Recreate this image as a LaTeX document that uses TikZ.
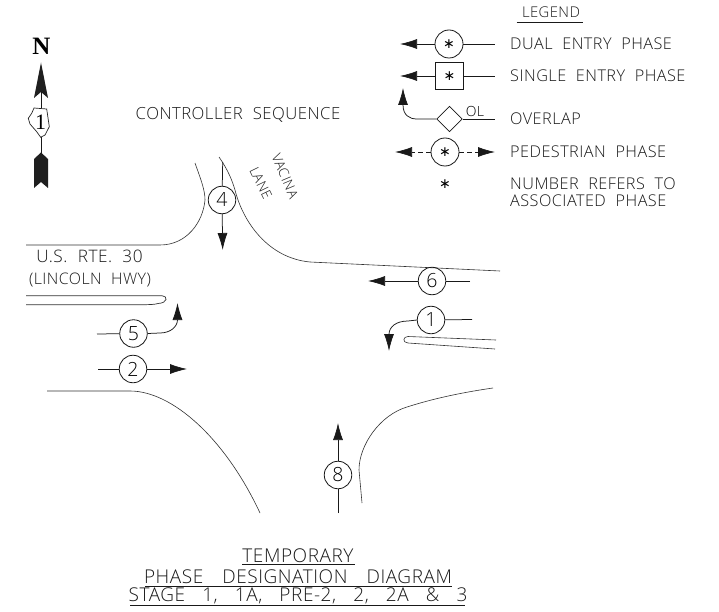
\documentclass[tikz,border=0pt]{standalone}
\usepackage{fontspec}
\setmainfont{Open Sans Light}[LetterSpace=3]
\usetikzlibrary{shapes.geometric,arrows.meta}
\newcommand{\cadfont}[2][.6em]{\fontsize{#2}{#2}\selectfont\spaceskip=#1\relax}
\tikzset{
  x=1pt,y=-1pt,
  road/.style={draw=black!80,line width=0.6pt},
  conn/.style={draw=black!90,line width=0.75pt},
  tipped/.style={conn,-{Latex[length=17pt,width=10pt]}},
  phase/.style={circle,draw=black!90,line width=0.8pt,minimum size=27.5pt,inner sep=0pt,font={\cadfont{19.5}}},
  sym/.style={draw=black!90,line width=0.8pt,inner sep=0pt,font={\fontsize{14}{14}\fontspec{DejaVu Sans}}},
  lbl/.style={anchor=west,inner sep=0pt,font={\cadfont{16.2}},text=black!90},
  ttl/.style={inner sep=0pt,font={\cadfont[1em]{19}},text=black!90},
  dark/.style={fill=black!88,draw=none},
}
\begin{document}
\begin{tikzpicture}
\useasboundingbox (0,0) rectangle (719,612);
\fill[white] (0,0) rectangle (719,612);

% legend
\node[ttl,font={\cadfont{14.8}}] (legendt) at (551,12.5) {LEGEND};
\coordinate (lu1) at (516.5,22); \coordinate (lu2) at (583,22);
\draw[conn] (lu1) -- (lu2);

\node[sym,circle,minimum size=28pt] (ld) at (449,44) {∗};
\coordinate (ldl) at (400,44); \coordinate (ldr) at (495,44);
\draw[tipped] (ld) -- (ldl); \draw[conn] (ld) -- (ldr);
\node[lbl] (ldt) at (510,44) {DUAL ENTRY PHASE};

\node[sym,rectangle,minimum size=27.5pt] (ls) at (449.5,76) {∗};
\coordinate (lsl) at (400,76); \coordinate (lsr) at (495,76);
\draw[tipped] (ls) -- (lsl); \draw[conn] (ls) -- (lsr);
\node[lbl] (lst) at (510,76) {SINGLE ENTRY PHASE};

\node[sym,diamond,minimum size=25.5pt] (lo) at (449.5,119) {};
\coordinate (lor) at (495,119); \coordinate (lot) at (403,88);
\draw[conn] (lo) -- (lor);
\draw[tipped] (lo.west) -- (417,119) .. controls (409,119) and (403,115) .. (lot);
\node[inner sep=0pt,font={\cadfont{14}}] (lol) at (475,111) {OL};
\node[lbl] (lot2) at (510,119) {OVERLAP};

\node[sym,circle,minimum size=28pt] (lp) at (445,152) {∗};
\coordinate (lpl) at (395,152); \coordinate (lpr) at (495,152);
\draw[tipped,dash pattern=on 5pt off 3pt] (lp) -- (lpl); \draw[tipped,dash pattern=on 5pt off 3pt] (lp) -- (lpr);
\node[lbl] (lpt) at (510,152) {PEDESTRIAN PHASE};

\node[inner sep=0pt,font={\fontsize{14}{14}\fontspec{DejaVu Sans}}] (la) at (445,184) {∗};
\node[lbl] (ln1) at (510,184) {NUMBER REFERS TO};
\node[lbl] (ln2) at (510,201) {ASSOCIATED PHASE};

% north arrow
\node[inner sep=0pt,font={\fontsize{25}{25}\bfseries\fontspec{Liberation Serif}},text=black] (north) at (41.5,46) {\textbf{N}};
\fill[dark] (41,62.5) -- (48,98) -- (41,92) -- (34,98) -- cycle;
\fill[dark] (41,152.5) -- (48,159) -- (48,188) -- (41,182) -- (34,188) -- (34,159) -- cycle;
\draw[conn] (41,92) -- (41,108.5);
\draw[conn] (41,137) -- (41,153);
\draw[draw=black!85,line width=0.7pt] (34,108) -- (46.7,109) -- (49.3,126.7) -- (45,135) -- (40.7,137.3) -- (36.7,131.7) -- (30,124) -- (28.3,118.3) -- (31.7,113.3) -- cycle;
\node[inner sep=0pt,font={\fontsize{22}{22}\fontspec{Liberation Serif}},text=black] (one) at (40.5,122) {1};

\node[ttl,font={\cadfont{16.7}}] (cs) at (238,114.5) {CONTROLLER SEQUENCE};

% roads
\draw[road] (195,163) .. controls (201,180) and (205,190) .. (205,200)
  .. controls (203,222) and (187,245) .. (160,245) -- (26,245);
\draw[road] (219,157) .. controls (228,170) and (232,180) .. (235,190)
  .. controls (243,222) and (268,258) .. (310,262) -- (500,271);
\draw[road,line width=.7pt] (26,295.7) -- (162,295.7) .. controls (168,296) and (168,303) .. (158,303.5) .. controls (155,304.5) and (150,304.7) .. (140,304.7) -- (26,304.7);
\draw[road] (496,340) -- (408,336.5) .. controls (403,336.5) and (402,342.5) .. (408,343) -- (495,349);
\draw[road] (47,391) -- (130,391) .. controls (172,391) and (225,438) .. (260,513);
\draw[road] (362,503) -- (359,470) .. controls (359,445) and (380,415) .. (407,407) .. controls (435,398) and (465,392) .. (493,388);

\node[ttl,font={\cadfont{13.6}},rotate=-67] (vac) at (285,176) {VACINA};
\node[ttl,font={\cadfont{13.6}},rotate=-64] (lane) at (261,183) {LANE};
\node[ttl,font={\cadfont{17.2}}] (rte) at (89.5,256.5) {U.S. RTE. 30};
\node[ttl,font={\cadfont{15.9}}] (hwy) at (90,279.5) {(LINCOLN HWY)};

% phases
\node[phase] (p4) at (222,200) {4};
\coordinate (p4a) at (222.7,162); \coordinate (p4b) at (222.7,250);
\draw[conn] (p4a) -- (p4);
\draw[tipped] (p4) -- (p4b);

\node[phase] (p5) at (133.5,333.5) {5};
\coordinate (p5a) at (97,334); \coordinate (p5b) at (177.5,303);
\draw[conn] (p5a) -- (p5);
\draw[tipped] (p5.east) -- (160,333) .. controls (170,333) and (177.5,327) .. (p5b);

\node[phase] (p2) at (133,369) {2};
\coordinate (p2a) at (98,369); \coordinate (p2b) at (187,369);
\draw[conn] (p2a) -- (p2);
\draw[tipped] (p2) -- (p2b);

\node[phase] (p6) at (432,281) {6};
\coordinate (p6a) at (470,281); \coordinate (p6b) at (368,281);
\draw[conn] (p6a) -- (p6);
\draw[tipped] (p6) -- (p6b);

\node[phase] (p1) at (431,320) {1};
\coordinate (p1a) at (472,319.5); \coordinate (p1b) at (389,351);
\draw[conn] (p1a) -- (p1);
\draw[tipped] (p1.west) -- (408,321) .. controls (396,321) and (389,327) .. (p1b);

\node[phase] (p8) at (338,475) {8};
\coordinate (p8a) at (338,513); \coordinate (p8b) at (338,423);
\draw[conn] (p8a) -- (p8);
\draw[tipped] (p8) -- (p8b);

% title
\node[ttl] (t1) at (298,556) {TEMPORARY};
\node[ttl] (t2) at (298,577) {PHASE DESIGNATION DIAGRAM};
\node[ttl,font={\cadfont[.9em]{19}}] (t3) at (298,596) {STAGE 1, 1A, PRE-2, 2, 2A \& 3};
\coordinate (u1a) at (242,564.5); \coordinate (u1b) at (355,564.5);
\coordinate (u2a) at (145,586); \coordinate (u2b) at (452,586);
\coordinate (u3a) at (130,605); \coordinate (u3b) at (465,605);
\draw[conn] (u1a) -- (u1b); \draw[conn] (u2a) -- (u2b); \draw[conn] (u3a) -- (u3b);
\end{tikzpicture}
\end{document}
